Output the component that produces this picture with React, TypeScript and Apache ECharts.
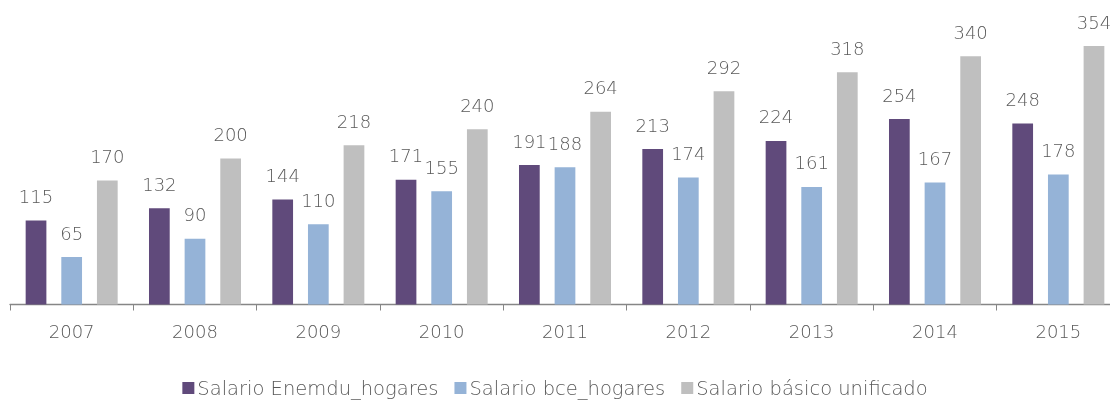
import React, { useEffect, useRef } from "react";
import * as echarts from "echarts";

const years = ["2007", "2008", "2009", "2010", "2011", "2012", "2013", "2014", "2015"];
const enemdu = [115, 132, 144, 171, 191, 213, 224, 254, 248];
const bce = [65, 90, 110, 155, 188, 174, 161, 167, 178];
const basico = [170, 200, 218, 240, 264, 292, 318, 340, 354];
const seriesNames = ["Salario Enemdu_hogares", "Salario bce_hogares", "Salario básico unificado"];
const colors = ["#604A7B", "#95B3D7", "#BFBFBF"];

const FONT = "DejaVu Sans";
const TEXT = "#595959";
const WEIGHT = 200;

export default function App() {
  const ref = useRef<HTMLDivElement>(null);
  useEffect(() => {
    if (!ref.current) return;
    const chart = echarts.init(ref.current, null, { renderer: "svg" });
    const label = {
      show: true,
      position: "top",
      distance: 15,
      color: TEXT,
      fontFamily: FONT,
      fontWeight: WEIGHT,
      fontSize: 18,
    };
    const datasets = [enemdu, bce, basico];
    chart.setOption({
      animation: false,
      textStyle: { fontFamily: FONT },
      grid: { left: 10, top: 12.5, width: 1110, bottom: 95.5, outerBoundsMode: "none", containLabel: false },
      legend: {
        bottom: 0,
        padding: [5, 5, 2, 5],
        left: "center",
        itemWidth: 12,
        itemHeight: 12,
        itemGap: 16,
        icon: "rect",
        textStyle: { color: TEXT, fontFamily: FONT, fontWeight: WEIGHT, fontSize: 19.5, lineHeight: 20, padding: [0, 0, 0, -2] },
        data: seriesNames,
      },
      xAxis: {
        type: "category",
        data: years,
        axisLine: { lineStyle: { color: "#868686", width: 1.3 } },
        axisTick: { show: true, length: 6, lineStyle: { color: "#868686" } },
        axisLabel: { color: TEXT, fontFamily: FONT, fontWeight: WEIGHT, fontSize: 18, margin: 18 },
      },
      yAxis: { type: "value", min: 0, max: 400, show: false, splitLine: { show: false } },
      series: seriesNames.map((name, i) => ({
        name,
        type: "bar",
        data: datasets[i],
        itemStyle: { color: colors[i] },
        barGap: "72%",
        barCategoryGap: "25.4%",
        label,
      })),
    });
    return () => chart.dispose();
  }, []);
  return <div ref={ref} style={{ position: "fixed", left: 0, top: 0, width: 1110, height: 400 }} />;
}
